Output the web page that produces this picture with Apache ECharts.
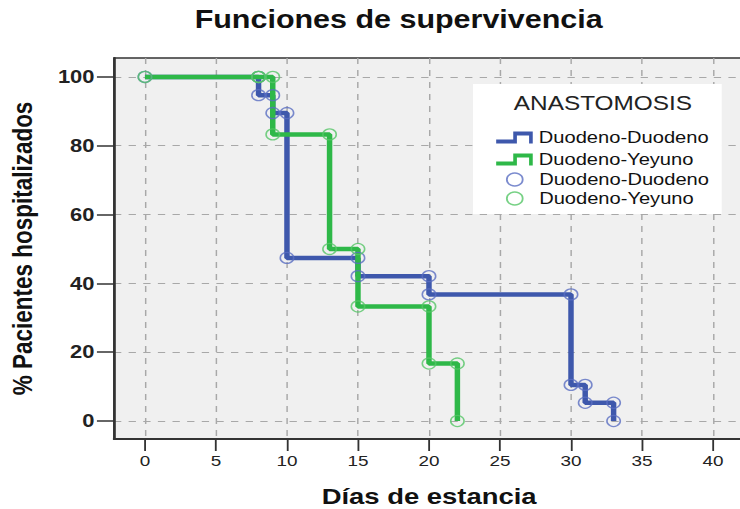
<!DOCTYPE html>
<html>
<head>
<meta charset="utf-8">
<script src="https://cdn.jsdelivr.net/npm/echarts@6/dist/echarts.min.js"></script>
<style>
html,body{margin:0;padding:0;background:#fff;overflow:hidden;}
#c{width:607px;height:509px;transform:scaleX(1.2191);transform-origin:0 0;}
</style>
</head>
<body>
<div id="c"></div>
<script>
// Data (Kaplan-Meier steps)
var ddTimes = [0, 8, 9, 10, 15, 20, 30, 31, 33];
var ddSurv  = [100, 94.7, 89.5, 47.4, 42.1, 36.8, 10.5, 5.3, 0];
var dyTimes = [0, 8, 9, 13, 15, 20, 22];
var dySurv  = [100, 100, 83.3, 50, 33.3, 16.7, 0];
var xTicks = [0, 5, 10, 15, 20, 25, 30, 35, 40];
var yTicks = [0, 20, 40, 60, 80, 100];
var groupNames = ['Duodeno-Duodeno', 'Duodeno-Yeyuno'];

var BLUE = '#3e58ac', GREEN = '#2eb848';
var BLUE_C = '#5a6ec2', GREEN_C = '#55c566';
var FONT = 'Liberation Sans, Arial, sans-serif';

function stepPts(t, s) {
  return t.map(function (v, i) { return [v, s[i]]; });
}
function cornerPts(t, s) {
  var p = [[t[0], s[0]]];
  for (var i = 1; i < t.length; i++) {
    p.push([t[i], s[i - 1]]);
    p.push([t[i], s[i]]);
  }
  return p;
}

var stepIcon = 'path://M0,8 L14,8 L14,0 L30,0 L30,12 L27,12 L27,4 L17,4 L17,12 L0,12 Z';

function legendAt(left, top, h, item) {
  return {
    orient: 'vertical', left: left, top: top, padding: 0,
    itemWidth: 30, itemHeight: h, z: 10,
    formatter: function (n) { return n.trim(); },
    textStyle: {fontSize: 16.5, lineHeight: 16, color: '#111', fontFamily: FONT},
    data: [item]
  };
}

var chart = echarts.init(document.getElementById('c'), null, {renderer: 'svg'});
chart.setOption({
  animation: false,
  backgroundColor: '#fff',
  grid: {
    left: 93.5, right: -3.5, top: 58, bottom: 70, outerBoundsMode: 'none', containLabel: false,
    show: true, backgroundColor: '#f0f0f0', borderColor: '#333', borderWidth: 1.5
  },
  xAxis: {
    type: 'value', min: -2.18, max: 42.2,
    name: 'Días de estancia', nameLocation: 'middle', nameGap: 45,
    nameTextStyle: {fontSize: 22.5, fontWeight: 'bold', color: '#111', fontFamily: FONT},
    axisLine: {show: true, onZero: false, lineStyle: {color: '#333', width: 2}},
    axisTick: {show: true, length: 12, customValues: xTicks, lineStyle: {color: '#333', width: 1.5}},
    axisLabel: {customValues: xTicks, fontSize: 15.5, color: '#222', margin: 14, fontFamily: FONT},
    splitLine: {show: true, lineStyle: {color: '#a8a8a8', width: 1.2, type: [6, 6]}}
  },
  yAxis: {
    type: 'value', min: -5.23, max: 105.5,
    name: '% Pacientes hospitalizados', nameLocation: 'middle', nameGap: 64, nameRotate: 90,
    nameTextStyle: {fontSize: 22.5, fontWeight: 'bold', color: '#111', fontFamily: FONT},
    axisLine: {show: true, onZero: false, lineStyle: {color: '#333', width: 2}},
    axisTick: {show: true, length: 14, customValues: yTicks, lineStyle: {color: '#333', width: 1.5}},
    axisLabel: {customValues: yTicks, fontSize: 18, fontWeight: 'bold', color: '#222', margin: 16, fontFamily: FONT},
    splitLine: {show: true, lineStyle: {color: '#a8a8a8', width: 1.2, type: [6, 6]}}
  },
  graphic: [
    {type: 'text', x: 327, y: 19, style: {text: 'Funciones de supervivencia', fontSize: 25, fontWeight: 'bold', fill: '#111', fontFamily: FONT, align: 'center', verticalAlign: 'middle'}},
    {type: 'rect', shape: {x: 388, y: 84, width: 204, height: 130}, style: {fill: '#fff'}, z: 5},
    {type: 'text', x: 494.6, y: 103, z: 6, style: {text: 'ANASTOMOSIS', fontSize: 20, fill: '#222', fontFamily: FONT, align: 'center', verticalAlign: 'middle'}}
  ],
  legend: [
    legendAt(407, 129, 12, {name: groupNames[0], icon: stepIcon, itemStyle: {color: BLUE}}),
    legendAt(407, 151, 12, {name: groupNames[1], icon: stepIcon, itemStyle: {color: GREEN}}),
    legendAt(415, 171, 13, {name: groupNames[0] + ' ', icon: 'circle', itemStyle: {color: 'rgba(0,0,0,0)', borderColor: BLUE_C, borderWidth: 1.5}}),
    legendAt(415, 190, 13, {name: groupNames[1] + ' ', icon: 'circle', itemStyle: {color: 'rgba(0,0,0,0)', borderColor: GREEN_C, borderWidth: 1.5}})
  ],
  series: [
    {name: groupNames[0], type: 'line', step: 'end', data: stepPts(ddTimes, ddSurv), showSymbol: false,
     lineStyle: {color: BLUE, width: 4.5}, itemStyle: {color: BLUE}, z: 2},
    {name: groupNames[1], type: 'line', step: 'end', data: stepPts(dyTimes, dySurv), showSymbol: false,
     lineStyle: {color: GREEN, width: 4.5}, itemStyle: {color: GREEN}, z: 3},
    {name: groupNames[0] + ' ', type: 'scatter', data: cornerPts(ddTimes, ddSurv), symbol: 'circle', symbolSize: 11,
     itemStyle: {color: 'rgba(0,0,0,0)', borderColor: BLUE_C, borderWidth: 1.3}, z: 4},
    {name: groupNames[1] + ' ', type: 'scatter', data: cornerPts(dyTimes, dySurv), symbol: 'circle', symbolSize: 11,
     itemStyle: {color: 'rgba(0,0,0,0)', borderColor: GREEN_C, borderWidth: 1.3}, z: 4}
  ]
});
</script>
</body>
</html>
